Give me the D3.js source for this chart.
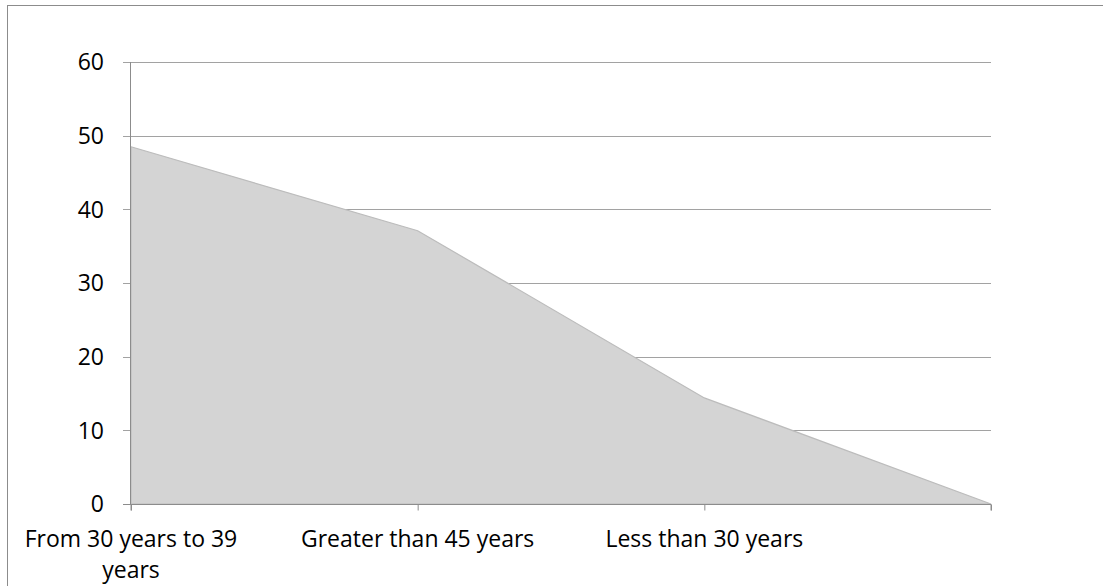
<!DOCTYPE html>
<html>
<head>
<meta charset="utf-8">
<script src="https://cdn.jsdelivr.net/npm/d3@7"></script>
<style>
  html, body { margin: 0; padding: 0; background: #fff; }
  svg { display: block; }
  text { font-family: "Open Sans", "Noto Sans", sans-serif; fill: #000; }
</style>
</head>
<body>
<svg id="chart" width="1103" height="586"></svg>
<script>
// Age groups and their shares (%)
const categories = ["From 30 years to 39 years", "Greater than 45 years", "Less than 30 years", ""];
const values = [48.5, 37.1, 14.4, 0];
const yTicks = [0, 10, 20, 30, 40, 50, 60];

const svg = d3.select("#chart");
const W = 1103, H = 586;

// Outer chart frame
svg.append("rect")
  .attr("x", 7.5).attr("y", 5.5)
  .attr("width", W + 10).attr("height", H + 10)
  .attr("fill", "#fff")
  .attr("stroke", "#8c8c8c").attr("stroke-width", 1);

const plot = { left: 131, right: 991, top: 62, bottom: 504 };

const x = d3.scalePoint()
  .domain(d3.range(categories.length))
  .range([plot.left, plot.right]);

const y = d3.scaleLinear()
  .domain([0, 60])
  .range([plot.bottom, plot.top]);

// Horizontal gridlines (extend left to form the y tick marks)
svg.append("g")
  .selectAll("line")
  .data(yTicks.filter(d => d > 0))
  .join("line")
  .attr("x1", plot.left - 8).attr("x2", plot.right)
  .attr("y1", d => Math.round(y(d)) + 0.5).attr("y2", d => Math.round(y(d)) + 0.5)
  .attr("stroke", "#a2a2a2").attr("stroke-width", 1);

// Area
const area = d3.area()
  .x((d, i) => x(i))
  .y0(y(0))
  .y1(d => y(d));

svg.append("path")
  .datum(values)
  .attr("d", area)
  .attr("fill", "#d4d4d4")
  .attr("stroke", "#bcbcbc")
  .attr("stroke-width", 1.2);

// Y axis line
svg.append("line")
  .attr("x1", plot.left - 0.5).attr("x2", plot.left - 0.5)
  .attr("y1", plot.top).attr("y2", plot.bottom)
  .attr("stroke", "#8c8c8c").attr("stroke-width", 1);

// X axis line with downward ticks
const xAxis = d3.axisBottom(x).tickSize(6).tickFormat("");
const gx = svg.append("g")
  .attr("transform", `translate(0,${Math.round(y(0)) + 0.5})`)
  .call(xAxis);
gx.select(".domain").attr("d", `M${plot.left},6V0H${plot.right}V6`).attr("stroke", "#8c8c8c");
gx.selectAll(".tick line").attr("stroke", "#8c8c8c");

// Zero tick on the y axis
svg.append("line")
  .attr("x1", plot.left - 8).attr("x2", plot.left)
  .attr("y1", Math.round(y(0)) + 0.5).attr("y2", Math.round(y(0)) + 0.5)
  .attr("stroke", "#8c8c8c");

// Y tick labels
svg.append("g")
  .selectAll("text")
  .data(yTicks)
  .join("text")
  .attr("x", 104)
  .attr("y", d => y(d))
  .attr("dy", "0.36em")
  .attr("text-anchor", "end")
  .style("font-size", "23px")
  .text(d => d);

// Category labels, wrapped to fit their slot
const maxW = 262;
const lab = svg.append("g")
  .selectAll("text")
  .data(categories)
  .join("text")
  .attr("x", (d, i) => x(i))
  .attr("y", 547)
  .attr("text-anchor", "middle")
  .style("font-size", "23px");

lab.each(function (d, i) {
  const t = d3.select(this);
  const words = d.split(" ");
  let line = [];
  let tspan = t.append("tspan").attr("x", x(i)).attr("dy", 0);
  for (const w of words) {
    line.push(w);
    tspan.text(line.join(" "));
    if (tspan.node().getComputedTextLength() > maxW && line.length > 1) {
      line.pop();
      tspan.text(line.join(" "));
      line = [w];
      tspan = t.append("tspan").attr("x", x(i)).attr("dy", 31).text(w);
    }
  }
});
</script>
</body>
</html>
